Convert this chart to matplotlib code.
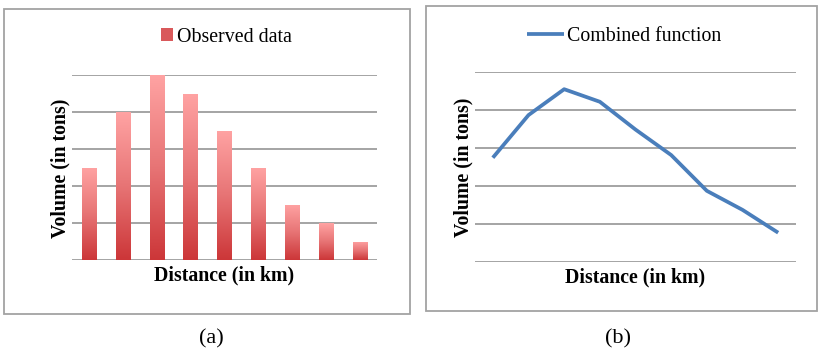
import numpy as np
import matplotlib
matplotlib.use("Agg")
import matplotlib.pyplot as plt
from matplotlib.patches import Rectangle
from matplotlib.colors import LinearSegmentedColormap

# Data (arbitrary units, gridlines at 0..5)
categories = list(range(1, 10))
observed = [2.5, 4.0, 5.0, 4.5, 3.5, 2.5, 1.5, 1.0, 0.5]
combined = [2.74, 3.86, 4.54, 4.21, 3.48, 2.81, 1.87, 1.37, 0.77]

W, H = 822, 356
fig = plt.figure(figsize=(W / 100, H / 100), dpi=100)

serif = ["Liberation Serif", "DejaVu Serif"]
fsize = 14.3
grid_col = "#8c8c8c"
box_col = "#a3a3a3"


def px_axes(x0, y_top, x1, y_bot):
    # axes placed by pixel box (top-left origin)
    return fig.add_axes([x0 / W, 1 - y_bot / H, (x1 - x0) / W, (y_bot - y_top) / H])


def style(ax):
    ax.set_ylim(0, 5)
    ax.set_xlim(-0.5, len(categories) - 0.5)
    ax.set_yticks(range(6))
    ax.set_xticks([])
    ax.tick_params(left=False, labelleft=False)
    for s in ax.spines.values():
        s.set_visible(False)
    ax.grid(axis="y", color=grid_col, lw=1.1)
    ax.set_axisbelow(True)


# frames around each panel
for (x0, y0, x1, y1) in [(4, 9, 410, 314), (426, 6, 817, 311)]:
    fig.patches.append(Rectangle((x0 / W, 1 - y1 / H), (x1 - x0) / W, (y1 - y0) / H,
                                 transform=fig.transFigure, fill=False,
                                 edgecolor=box_col, lw=1.3))

# (a) bar chart with gradient fill
ax1 = px_axes(72, 75, 377, 260)
style(ax1)
xpos = np.arange(len(categories))
bars = ax1.bar(xpos, observed, width=0.42, color="#d9595b", label="Observed data", zorder=2)
# legend first, so the handle keeps the solid red
ax1.legend(loc="center", bbox_to_anchor=(226 / W, 1 - 37 / H), bbox_transform=fig.transFigure,
           frameon=False, prop={"family": serif, "size": fsize},
           handlelength=0.6, handleheight=0.6, handletextpad=0.2)
grad = LinearSegmentedColormap.from_list("redgrad", ["#cc3638", "#e77475", "#ffa3a3"])
g = np.linspace(0, 1, 256).reshape(-1, 1)
for b in bars:
    x0, w, h = b.get_x(), b.get_width(), b.get_height()
    b.set_facecolor("none")
    b.set_edgecolor("none")
    im = ax1.imshow(g, cmap=grad, origin="lower", aspect="auto",
                    extent=[x0, x0 + w, 0, h], zorder=2)
    im.set_clip_path(b)
ax1.set_xlim(-0.5, len(categories) - 0.5)
ax1.set_ylim(0, 5)
ax1.text(0.497, -0.081, "Distance (in km)", transform=ax1.transAxes, ha="center", va="center",
         family=serif, weight="bold", size=fsize)
ax1.text(-0.039, 0.495, "Volume (in tons)", transform=ax1.transAxes, ha="center", va="center",
         rotation=90, family=serif, weight="bold", size=fsize)

# (b) line chart
ax2 = px_axes(475, 71.7, 796, 262)
style(ax2)
ax2.plot(xpos, combined, color="#4a7ebb", lw=2.7, label="Combined function",
         solid_joinstyle="round", solid_capstyle="butt", zorder=3)
ax2.legend(loc="center", bbox_to_anchor=(624 / W, 1 - 36.5 / H), bbox_transform=fig.transFigure,
           frameon=False, prop={"family": serif, "size": fsize},
           handlelength=1.9, handletextpad=0.15)
ax2.text(0.498, -0.079, "Distance (in km)", transform=ax2.transAxes, ha="center", va="center",
         family=serif, weight="bold", size=fsize)
ax2.text(-0.037, 0.497, "Volume (in tons)", transform=ax2.transAxes, ha="center", va="center",
         rotation=90, family=serif, weight="bold", size=fsize)

# captions
fig.text(211.7 / W, 1 - 339 / H, "(a)", ha="center", va="center", family=serif, size=16)
fig.text(618 / W, 1 - 339 / H, "(b)", ha="center", va="center", family=serif, size=16)

fig.savefig("out.png", dpi=100)
